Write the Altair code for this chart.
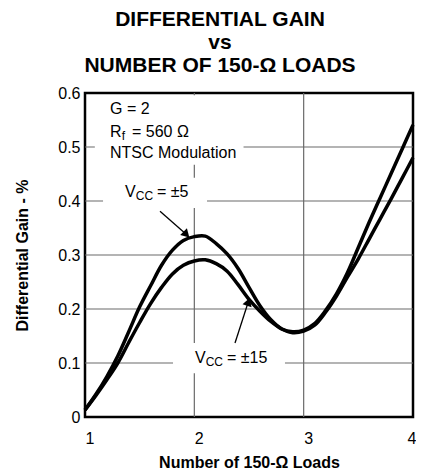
import altair as alt
import pandas as pd

FONT = "Liberation Sans"

# ---- data ----
loads = [1.0, 1.1, 1.2, 1.3, 1.4, 1.5, 1.6, 1.7, 1.8, 1.9, 2.0, 2.1, 2.2, 2.3, 2.4, 2.5,
         2.6, 2.7, 2.8, 2.9, 3.0, 3.1, 3.2, 3.3, 3.4, 3.5, 3.6, 3.7, 3.8, 3.9, 4.0]
gain_vcc5 = [0.013, 0.042, 0.075, 0.113, 0.158, 0.204, 0.243, 0.281, 0.309, 0.327, 0.334,
             0.335, 0.321, 0.302, 0.275, 0.240, 0.206, 0.180, 0.163, 0.158, 0.161, 0.173,
             0.197, 0.228, 0.267, 0.314, 0.361, 0.406, 0.451, 0.496, 0.541]
gain_vcc15 = [0.013, 0.040, 0.069, 0.100, 0.138, 0.175, 0.210, 0.240, 0.265, 0.281, 0.289,
              0.291, 0.284, 0.270, 0.245, 0.218, 0.196, 0.177, 0.163, 0.156, 0.159, 0.170,
              0.194, 0.224, 0.259, 0.293, 0.330, 0.367, 0.404, 0.442, 0.480]
series_names = ["VCC = ±5", "VCC = ±15"]

x_ticks = [1, 2, 3, 4]
y_ticks = [0, 0.1, 0.2, 0.3, 0.4, 0.5, 0.6]
x_grid = [2, 3]
y_grid = [0.1, 0.2, 0.3, 0.4, 0.5]

title_lines = ["DIFFERENTIAL GAIN", "vs", "NUMBER OF 150-Ω LOADS"]
x_title = "Number of 150-Ω Loads"
y_title = "Differential Gain - %"

# annotation label boxes (data coords): x1, x2, y1, y2
boxes_x1 = [1.09, 1.165, 1.805]
boxes_x2 = [2.45, 2.116, 2.829]
boxes_y1 = [0.467, 0.387, 0.081]
boxes_y2 = [0.596, 0.443, 0.137]

# annotation text pieces: text, x, y, dx, dy, size
notes = [
    ("G = 2", 1.229, 0.561, 0, 0, 16),
    ("R", 1.229, 0.5185, 0, 0, 16),
    ("f", 1.229, 0.5185, 11.6, 3, 12),
    ("= 560 Ω", 1.229, 0.5185, 22, 0, 16),
    ("NTSC Modulation", 1.229, 0.48, 0, 0, 16),
    ("V", 1.366, 0.407, 0, 0, 16),
    ("CC", 1.366, 0.407, 10.7, 3, 12),
    ("= ±5", 1.366, 0.407, 32, 0, 16),
    ("V", 2.006, 0.1, 0, 0, 16),
    ("CC", 2.006, 0.1, 10.7, 3, 12),
    ("= ±15", 2.006, 0.1, 32, 0, 16),
]

# arrows: start x, start y, head x, head y, head angle
arrows = [
    (1.686, 0.381, 1.928, 0.338, 135),
    (2.372, 0.137, 2.494, 0.2133, 18),
]

# ---- build ----
n = len(loads)
df = pd.DataFrame({
    "loads": loads * 2,
    "gain": gain_vcc5 + gain_vcc15,
    "series": [series_names[0]] * n + [series_names[1]] * n,
})

xs = alt.Scale(domain=[1, 4], nice=False, zero=False)
ys = alt.Scale(domain=[0, 0.6], nice=False)

last_x = x_ticks[-1]
x_axis = alt.Axis(
    values=x_ticks, format="d",
    labelAlign={"condition": {"test": f"datum.value == {last_x}", "value": "right"}, "value": "left"},
    labelOffset={"condition": {"test": f"datum.value == {last_x}", "value": 3}, "value": 0},
    labelPadding=13, titlePadding=8, grid=False, ticks=False, domain=False)
y_axis = alt.Axis(values=y_ticks,
                  labelExpr="datum.value == 0 ? '0' : format(datum.value, '.1f')",
                  labelPadding=5, titlePadding=27, grid=False, ticks=False, domain=False)

def X(f):
    return alt.X(f, type="quantitative", scale=xs, axis=x_axis, title=x_title)

def Y(f):
    return alt.Y(f, type="quantitative", scale=ys, axis=y_axis, title=y_title)

grid_v = alt.Chart(pd.DataFrame({"g": x_grid})).mark_rule(
    color="#6a6a6a", strokeWidth=1.2).encode(x=X("g"))
grid_h = alt.Chart(pd.DataFrame({"g": y_grid})).mark_rule(
    color="#6a6a6a", strokeWidth=1.2).encode(y=Y("g"))

boxes = alt.Chart(pd.DataFrame({"x1": boxes_x1, "x2": boxes_x2, "y1": boxes_y1, "y2": boxes_y2})
                  ).mark_rect(color="white", opacity=1).encode(
    x=X("x1"), x2="x2", y=Y("y1"), y2="y2")

lines = alt.Chart(df).mark_line(color="black", strokeWidth=3.5, interpolate="catmull-rom").encode(
    x=X("loads"), y=Y("gain"), detail="series:N")

layers = [grid_v, grid_h, boxes, lines]

for sx, sy, hx, hy, ang in arrows:
    d = pd.DataFrame({"sx": [sx], "sy": [sy], "hx": [hx], "hy": [hy]})
    layers.append(alt.Chart(d).mark_rule(color="black", strokeWidth=1.3).encode(
        x=X("sx"), y=Y("sy"), x2="hx", y2="hy"))
    layers.append(alt.Chart(d).mark_point(shape="triangle-up", filled=True, size=90,
                                          color="black", opacity=1, angle=ang).encode(
        x=X("hx"), y=Y("hy")))

for t, x, y, dx, dy, size in notes:
    d = pd.DataFrame({"x": [x], "y": [y], "t": [t]})
    layers.append(alt.Chart(d).mark_text(align="left", baseline="alphabetic", dx=dx, dy=dy,
                                         fontSize=size, font=FONT, color="black").encode(
        x=X("x"), y=Y("y"), text="t:N"))

chart = alt.layer(*layers).properties(
    width=328, height=324,
    autosize=alt.AutoSizeParams(type="none"),
    padding={"left": 77, "top": 85, "right": 3, "bottom": 52},
    title=alt.TitleParams(text=title_lines, font=FONT, fontSize=21, fontWeight="bold",
                          color="black", anchor="middle", frame="group", dx=-29,
                          offset=9, lineHeight=23),
).configure_view(stroke="black", strokeWidth=2.5).configure_axis(
    labelFont=FONT, labelFontSize=16, labelColor="black",
    titleFont=FONT, titleFontSize=16, titleFontWeight="bold", titleColor="black",
)

chart.save("out.html", embed_options={"renderer": "svg", "actions": False})
